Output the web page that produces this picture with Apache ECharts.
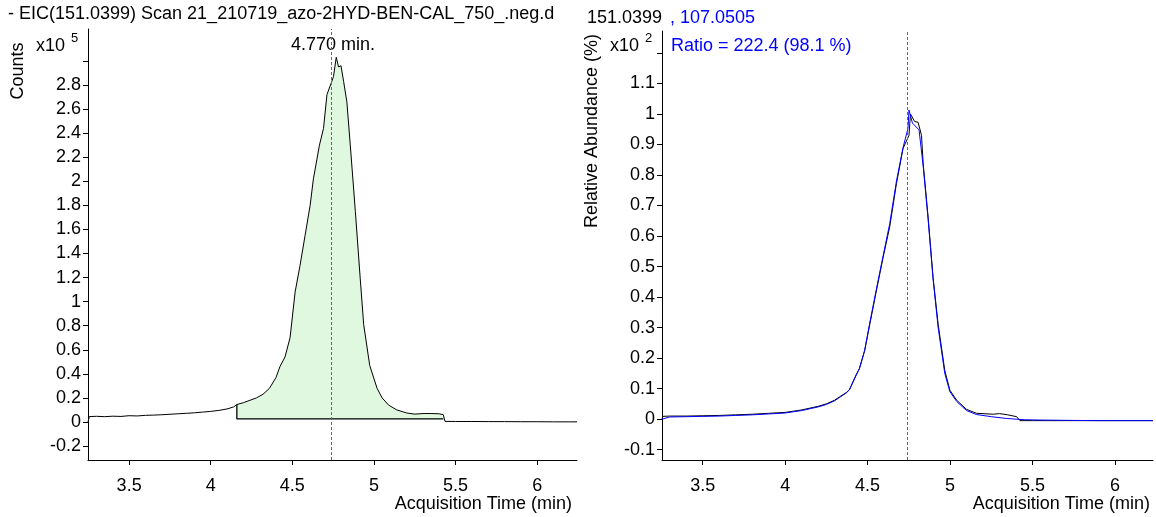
<!DOCTYPE html>
<html>
<head>
<meta charset="utf-8">
<script src="https://cdn.jsdelivr.net/npm/echarts@6/dist/echarts.min.js"></script>
<style>
html,body{margin:0;padding:0;background:#fff;}
#c{width:1156px;height:517px;}
</style>
</head>
<body>
<div id="c"></div>
<script>
// ---------- Left: EIC counts (x10^5) ----------
const leftTime = [3.248,3.256,3.30,3.35,3.40,3.45,3.50,3.55,3.60,3.65,3.70,3.75,3.80,3.85,3.90,3.95,4.00,4.05,4.10,4.14,
  4.16,4.20,4.24,4.28,4.32,4.36,4.40,4.424,4.455,4.486,4.517,4.547,4.578,4.609,4.629,4.666,4.691,4.712,4.742,4.752,
  4.769,4.783,4.798,4.814,4.834,4.855,4.886,4.916,4.937,4.974,5.019,5.05,5.09,5.14,5.20,5.25,5.30,5.35,5.40,5.425,
  5.435,5.50,5.60,5.70,5.80,5.90,6.00,6.10,6.20,6.244];
const leftCounts = [0.0,0.045,0.047,0.044,0.048,0.046,0.052,0.050,0.055,0.057,0.060,0.064,0.068,0.072,0.076,0.082,0.088,0.096,0.108,0.125,
  0.145,0.16,0.18,0.20,0.23,0.28,0.37,0.46,0.54,0.70,1.08,1.30,1.55,1.80,2.02,2.30,2.44,2.72,2.83,2.87,
  3.03,2.95,2.96,2.83,2.66,2.30,1.75,1.19,0.81,0.47,0.28,0.20,0.14,0.10,0.075,0.065,0.07,0.07,0.068,0.06,
  0.005,0.004,0.004,0.003,0.003,0.002,0.002,0.001,0.001,0.001];
const integStart = 4.16, integEnd = 5.425, integBase = 0.025;
const leftMarkerTime = 4.744;
const leftYTicks = [-0.2,0,0.2,0.4,0.6,0.8,1,1.2,1.4,1.6,1.8,2,2.2,2.4,2.6,2.8,3.0];
const leftYLabels = [-0.2,0,0.2,0.4,0.6,0.8,1,1.2,1.4,1.6,1.8,2,2.2,2.4,2.6,2.8];
const xTicks = [3.5,4,4.5,5,5.5,6];

// ---------- Right: relative abundance (x10^2 %) ----------
const rightTime = [3.253,3.258,3.30,3.40,3.50,3.60,3.70,3.80,3.90,4.00,4.05,4.10,4.15,4.20,4.25,4.30,4.33,4.371,4.39,4.432,
  4.45,4.482,4.513,4.553,4.594,4.634,4.675,4.715,4.751,4.76,4.772,4.786,4.806,4.827,4.837,4.867,4.897,4.928,4.968,4.999,
  5.04,5.10,5.161,5.20,5.262,5.30,5.35,5.404,5.424,5.50,5.60,5.80,6.00,6.231];
const rightQuant = [0.0,0.009,0.010,0.010,0.011,0.012,0.014,0.016,0.019,0.022,0.026,0.030,0.036,0.042,0.050,0.062,0.073,0.087,0.097,0.147,
  0.165,0.224,0.31,0.42,0.53,0.63,0.772,0.887,0.93,1.0,0.997,0.975,0.973,0.93,0.838,0.662,0.465,0.31,0.16,0.095,
  0.062,0.032,0.019,0.018,0.016,0.018,0.014,0.008,-0.005,-0.005,-0.005,-0.005,-0.005,-0.005];
const qualTime = [3.253,3.258,3.30,3.40,3.50,3.60,3.70,3.80,3.90,4.00,4.05,4.10,4.15,4.20,4.25,4.30,4.33,4.371,4.39,4.432,
  4.45,4.482,4.513,4.553,4.594,4.634,4.675,4.715,4.745,4.751,4.772,4.812,4.837,4.867,4.897,4.928,4.968,4.999,5.04,5.10,
  5.161,5.25,5.344,5.45,5.54,5.70,5.90,6.10,6.231];
const qualAbund = [0.0,0.006,0.007,0.008,0.009,0.010,0.012,0.014,0.017,0.020,0.024,0.028,0.034,0.040,0.048,0.060,0.071,0.086,0.096,0.145,
  0.165,0.225,0.315,0.425,0.535,0.64,0.78,0.89,0.953,1.013,0.97,0.948,0.83,0.655,0.46,0.30,0.15,0.09,0.058,0.028,
  0.015,0.008,0.002,-0.002,-0.003,-0.004,-0.005,-0.005,-0.005];
const rightMarkerTime = 4.742;
const rightYTicks = [-0.1,0,0.1,0.2,0.3,0.4,0.5,0.6,0.7,0.8,0.9,1,1.1,1.2];
const rightYLabels = [-0.1,0,0.1,0.2,0.3,0.4,0.5,0.6,0.7,0.8,0.9,1,1.1];

const FONT = '"Liberation Sans", Arial, sans-serif';
const FS = 18;
const F = FS + 'px ' + FONT;
const FSUP = '13px ' + FONT;

const zip = (a, b) => a.map((v, i) => [v, b[i]]);
const leftData = zip(leftTime, leftCounts);
const fillData = leftData.filter(p => p[0] >= integStart && p[0] <= integEnd);
const startCount = leftCounts[leftTime.indexOf(integStart)];
const baselineData = [[integStart, startCount], [integStart, integBase], [integEnd, integBase]];

function xAxisCfg(gi, min, max) {
  return {
    type: 'value', gridIndex: gi, min: min, max: max,
    axisLine: { onZero: false, lineStyle: { color: '#000', width: 1 } },
    axisTick: { customValues: xTicks, length: 5, lineStyle: { color: '#000' } },
    axisLabel: { customValues: xTicks, color: '#000', fontFamily: FONT, fontSize: FS, margin: 17 },
    splitLine: { show: false }
  };
}
function yAxisCfg(gi, min, max, ticks, labels) {
  return {
    type: 'value', gridIndex: gi, min: min, max: max,
    axisLine: { show: true, onZero: false, lineStyle: { color: '#000', width: 1 } },
    axisTick: { show: true, customValues: ticks, length: 5, lineStyle: { color: '#000' } },
    axisLabel: { customValues: labels, color: '#000', fontFamily: FONT, fontSize: FS, margin: 7 },
    splitLine: { show: false }
  };
}
const markerLine = (t) => ({
  symbol: 'none', silent: true, animation: false,
  label: { show: false },
  lineStyle: { type: [3, 2], color: '#5555ff', width: 1 },
  data: [{ xAxis: t }]
});

const chart = echarts.init(document.getElementById('c'), null, { renderer: 'canvas' });
chart.setOption({
  animation: false,
  backgroundColor: '#fff',
  textStyle: { fontFamily: FONT },
  grid: [
    { left: 88, top: 29, width: 489, height: 431 },
    { left: 662, top: 31, width: 491, height: 429 }
  ],
  xAxis: [xAxisCfg(0, 3.248, 6.244), xAxisCfg(1, 3.253, 6.231)],
  yAxis: [
    yAxisCfg(0, -0.316, 3.265, leftYTicks, leftYLabels),
    yAxisCfg(1, -0.134, 1.272, rightYTicks, rightYLabels)
  ],
  series: [
    { type: 'line', xAxisIndex: 0, yAxisIndex: 0, data: fillData, symbol: 'none', z: 1,
      lineStyle: { width: 0, opacity: 0 },
      areaStyle: { color: '#dff8df', opacity: 1, origin: integBase } },
    { type: 'line', xAxisIndex: 0, yAxisIndex: 0, data: baselineData, symbol: 'none', z: 3,
      lineStyle: { color: '#000', width: 1.3 } },
    { type: 'line', xAxisIndex: 0, yAxisIndex: 0, data: leftData, symbol: 'none', z: 4,
      lineStyle: { color: '#000', width: 1 },
      markLine: markerLine(leftMarkerTime) },
    { type: 'line', xAxisIndex: 1, yAxisIndex: 1, data: zip(rightTime, rightQuant), symbol: 'none', z: 3,
      lineStyle: { color: '#000', width: 1 },
      markLine: markerLine(rightMarkerTime) },
    { type: 'line', xAxisIndex: 1, yAxisIndex: 1, data: zip(qualTime, qualAbund), symbol: 'none', z: 4,
      lineStyle: { color: '#0000ff', width: 1 } }
  ],
  graphic: [
    { type: 'text', left: 8, top: 5, style: { text: '- EIC(151.0399) Scan 21_210719_azo-2HYD-BEN-CAL_750_.neg.d', fill: '#000', font: F } },
    { type: 'text', left: 291, top: 36, style: { text: '4.770 min.', fill: '#000', font: F } },
    { type: 'text', x: 18, y: 71, rotation: Math.PI / 2, style: { text: 'Counts', fill: '#000', font: F, align: 'center', verticalAlign: 'middle' } },
    { type: 'text', left: 36, top: 37, style: { text: 'x10', fill: '#000', font: F } },
    { type: 'text', left: 71, top: 32, style: { text: '5', fill: '#000', font: FSUP } },
    { type: 'text', right: 1156 - 572, top: 495, style: { text: 'Acquisition Time (min)', fill: '#000', font: F } },
    { type: 'text', left: 587, top: 9, style: { text: '151.0399', fill: '#000', font: F } },
    { type: 'text', left: 670, top: 9, style: { text: ', 107.0505', fill: '#0000ff', font: F } },
    { type: 'text', x: 592, y: 131, rotation: Math.PI / 2, style: { text: 'Relative Abundance (%)', fill: '#000', font: F, align: 'center', verticalAlign: 'middle' } },
    { type: 'text', left: 610, top: 37, style: { text: 'x10', fill: '#000', font: F } },
    { type: 'text', left: 645, top: 32, style: { text: '2', fill: '#000', font: FSUP } },
    { type: 'text', left: 671, top: 37, style: { text: 'Ratio = 222.4 (98.1 %)', fill: '#0000ff', font: F } },
    { type: 'text', right: 1156 - 1150, top: 495, style: { text: 'Acquisition Time (min)', fill: '#000', font: F } }
  ]
});
</script>
</body>
</html>
